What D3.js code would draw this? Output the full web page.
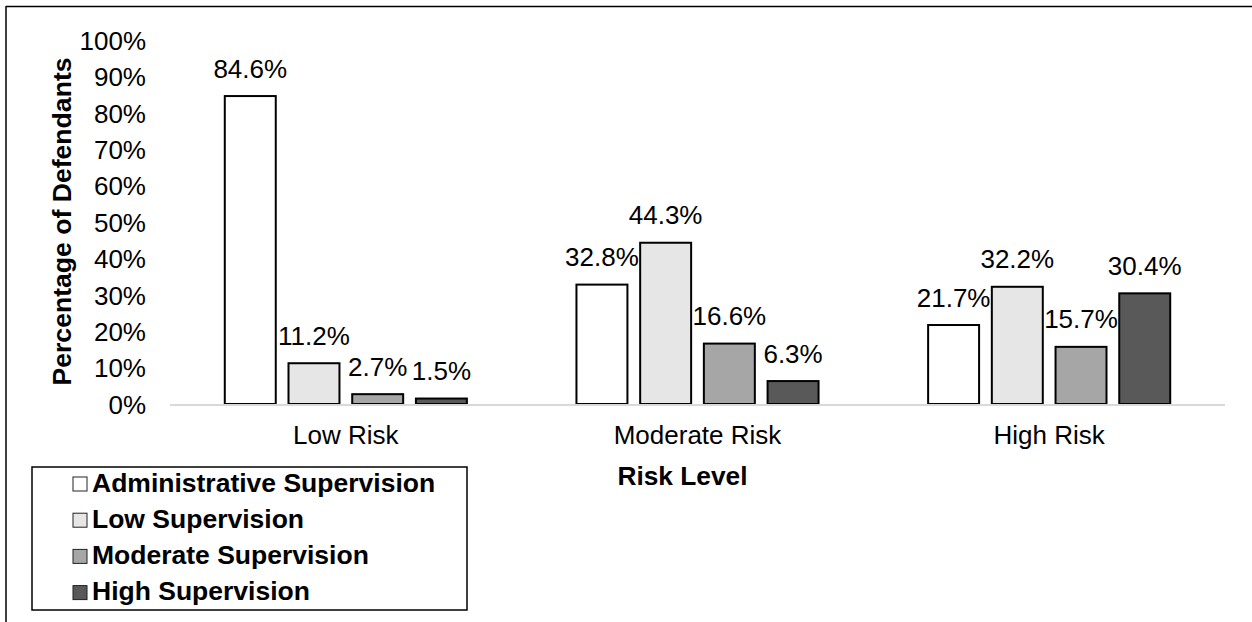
<!DOCTYPE html>
<html>
<head>
<meta charset="utf-8">
<script src="https://cdn.jsdelivr.net/npm/d3@7"></script>
<style>
  html, body { margin: 0; padding: 0; background: #fff; }
  svg { display: block; font-family: "Liberation Sans", Arial, sans-serif; }
</style>
</head>
<body>
<svg id="chart" width="1252" height="622"></svg>
<script>
// Risk level categories along the x axis
const categories = ["Low Risk", "Moderate Risk", "High Risk"];
// Supervision levels (one bar each per category)
const seriesNames = ["Administrative Supervision", "Low Supervision", "Moderate Supervision", "High Supervision"];
// Percent of defendants, per series, in category order
const adminValues    = [84.6, 32.8, 21.7];
const lowValues      = [11.2, 44.3, 32.2];
const moderateValues = [2.7, 16.6, 15.7];
const highValues     = [1.5, 6.3, 30.4];
const yTicks = [0, 10, 20, 30, 40, 50, 60, 70, 80, 90, 100];

const seriesValues = [adminValues, lowValues, moderateValues, highValues];
const fills = ["#ffffff", "#e6e6e6", "#a6a6a6", "#595959"];
const FONT = "'Liberation Sans', Arial, sans-serif";

const svg = d3.select("#chart");

// outer frame (top and left edges)
svg.append("line").attr("x1", 6).attr("x2", 1252).attr("y1", 6.5).attr("y2", 6.5)
  .attr("stroke", "#000").attr("stroke-width", 1.5);
svg.append("line").attr("x1", 6).attr("x2", 6).attr("y1", 6).attr("y2", 622)
  .attr("stroke", "#000").attr("stroke-width", 1.5);

const x0 = d3.scaleBand().domain(categories).range([170, 1225]).padding(0);
const x1 = d3.scaleBand().domain(seriesNames).range([0, x0.bandwidth()])
  .paddingInner(0.2).paddingOuter(0.86);
const y = d3.scaleLinear().domain([0, 100]).range([404, 40]);

// y tick labels (no axis line)
const yAxis = d3.axisLeft(y).tickValues(yTicks).tickSize(0).tickPadding(0)
  .tickFormat(d => d + "%");
const yg = svg.append("g").attr("transform", "translate(146,0)").call(yAxis);
yg.select(".domain").remove();
yg.selectAll("text").attr("font-size", 26).attr("fill", "#000")
  .attr("font-family", FONT).attr("dy", "0.36em");

// rows of data: one entry per bar
const rows = [];
categories.forEach((c, ci) => {
  seriesNames.forEach((s, si) => {
    rows.push({ cat: c, series: s, si, value: seriesValues[si][ci] });
  });
});

const g = svg.append("g");
g.selectAll("rect.bar").data(rows).join("rect")
  .attr("class", "bar")
  .attr("x", d => x0(d.cat) + x1(d.series))
  .attr("y", d => y(d.value))
  .attr("width", x1.bandwidth())
  .attr("height", d => y(0) - y(d.value))
  .attr("fill", d => fills[d.si])
  .attr("stroke", "#000").attr("stroke-width", 2);

// baseline
svg.append("line").attr("x1", 170).attr("x2", 1225).attr("y1", y(0) + 1).attr("y2", y(0) + 1)
  .attr("stroke", "#d9d9d9").attr("stroke-width", 2);

// value labels
g.selectAll("text.val").data(rows).join("text")
  .attr("class", "val")
  .attr("x", d => x0(d.cat) + x1(d.series) + x1.bandwidth() / 2)
  .attr("y", d => y(d.value) - 18.5)
  .attr("text-anchor", "middle")
  .attr("font-size", 26).attr("fill", "#000")
  .text(d => d.value.toFixed(1) + "%");

// x category labels
const xAxis = d3.axisBottom(x0).tickSize(0).tickPadding(0);
const xg = svg.append("g").attr("transform", "translate(0,444)").call(xAxis);
xg.select(".domain").remove();
xg.selectAll("text").attr("font-size", 26).attr("fill", "#000")
  .attr("font-family", FONT).attr("dy", 0);

// axis titles
svg.append("text").attr("transform", "translate(71,221.5) rotate(-90)")
  .attr("text-anchor", "middle").attr("font-size", 26.6).attr("font-weight", "bold")
  .text("Percentage of Defendants");
svg.append("text").attr("x", 682.5).attr("y", 485)
  .attr("text-anchor", "middle").attr("font-size", 26.3).attr("font-weight", "bold")
  .text("Risk Level");

// legend
const leg = svg.append("g");
leg.append("rect").attr("x", 32).attr("y", 467).attr("width", 435).attr("height", 143)
  .attr("fill", "#fff").attr("stroke", "#000").attr("stroke-width", 1.5);
const items = leg.selectAll("g.item").data(seriesNames).join("g")
  .attr("class", "item")
  .attr("transform", (d, i) => `translate(0,${491.5 + i * 36.2})`);
items.append("rect").attr("x", 73).attr("y", -14.5).attr("width", 14).attr("height", 14)
  .attr("fill", (d, i) => fills[i]).attr("stroke", "#222").attr("stroke-width", 1);
items.append("text").attr("x", 92).attr("y", 0)
  .attr("font-size", 26.5).attr("font-weight", "bold").attr("fill", "#000")
  .text(d => d);
</script>
</body>
</html>
